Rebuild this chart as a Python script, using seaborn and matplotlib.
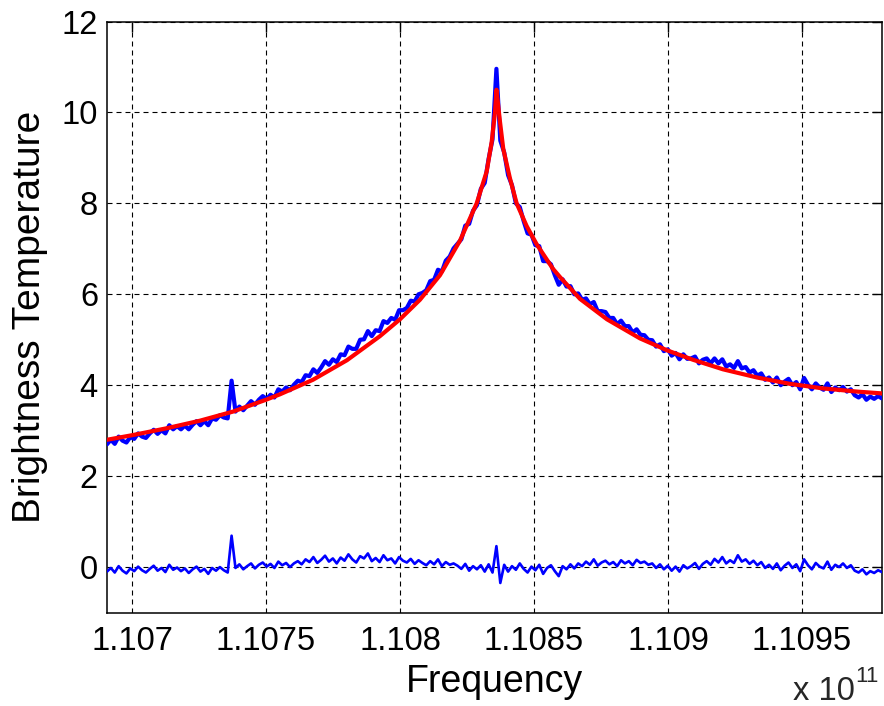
import numpy as np
import pandas as pd
import matplotlib
matplotlib.use("Agg")
import matplotlib.pyplot as plt
import seaborn as sns

# ---------------- data ----------------
f_start = 1.1069067e11
f_stop = 1.1097985e11

# measured brightness temperature (blue spectrum), evenly spaced channels
spectrum = [
    2.70, 2.80, 2.71, 2.87, 2.78, 2.74, 2.86, 2.82, 2.94, 2.87,
    2.84, 2.94, 3.02, 2.93, 3.01, 2.94, 3.12, 3.03, 3.10, 3.03,
    3.11, 3.03, 3.13, 3.21, 3.12, 3.21, 3.12, 3.27, 3.24, 3.34,
    3.29, 3.27, 4.10, 3.42, 3.53, 3.45, 3.55, 3.65, 3.57, 3.68,
    3.76, 3.70, 3.79, 3.73, 3.91, 3.86, 3.95, 3.89, 4.01, 4.10,
    4.07, 4.22, 4.20, 4.35, 4.27, 4.39, 4.53, 4.45, 4.57, 4.51,
    4.68, 4.66, 4.85, 4.80, 4.80, 5.00, 5.01, 5.19, 5.08, 5.21,
    5.19, 5.41, 5.37, 5.48, 5.44, 5.65, 5.65, 5.70, 5.86, 5.84,
    6.00, 6.03, 6.09, 6.29, 6.32, 6.54, 6.50, 6.74, 6.83, 7.01,
    7.11, 7.21, 7.51, 7.55, 7.84, 7.96, 8.32, 8.45, 8.98, 9.41,
    10.96, 9.38, 9.12, 8.62, 8.40, 8.00, 7.92, 7.61, 7.34, 7.31,
    7.08, 7.06, 6.73, 6.73, 6.66, 6.42, 6.21, 6.33, 6.17, 6.18,
    6.00, 6.02, 5.88, 5.91, 5.78, 5.83, 5.63, 5.63, 5.61, 5.48,
    5.48, 5.34, 5.42, 5.30, 5.30, 5.16, 5.23, 5.11, 5.10, 5.00,
    4.99, 4.85, 4.90, 4.75, 4.79, 4.65, 4.71, 4.57, 4.68, 4.58,
    4.59, 4.63, 4.48, 4.56, 4.59, 4.48, 4.59, 4.48, 4.57, 4.41,
    4.46, 4.38, 4.53, 4.37, 4.40, 4.28, 4.33, 4.21, 4.26, 4.12,
    4.17, 4.06, 4.17, 4.00, 4.08, 4.14, 4.00, 4.07, 3.91, 4.16,
    4.01, 3.91, 4.04, 3.95, 3.90, 4.04, 3.85, 3.95, 3.89, 3.96,
    3.86, 3.91, 3.78, 3.73, 3.80, 3.68, 3.75, 3.70, 3.76, 3.71,
]

# residual (blue trace near zero)
residual = [
    -0.10, -0.02, -0.12, 0.02, -0.08, -0.14, -0.03, -0.09, 0.01, -0.07,
    -0.12, -0.04, 0.03, -0.08, -0.02, -0.11, 0.05, -0.06, -0.01, -0.09,
    -0.03, -0.13, -0.05, 0.01, -0.10, -0.04, -0.15, -0.02, -0.08, 0.00,
    -0.07, -0.12, 0.69, -0.02, 0.06, -0.05, 0.02, 0.08, -0.03, 0.05,
    0.10, 0.01, 0.07, -0.02, 0.12, 0.04, 0.09, 0.00, 0.08, 0.13,
    0.06, 0.17, 0.11, 0.22, 0.09, 0.16, 0.25, 0.12, 0.19, 0.08,
    0.21, 0.14, 0.28, 0.17, 0.10, 0.24, 0.19, 0.30, 0.13, 0.20,
    0.11, 0.26, 0.15, 0.19, 0.08, 0.22, 0.14, 0.10, 0.18, 0.07,
    0.15, 0.09, 0.04, 0.13, 0.06, 0.17, 0.02, 0.11, 0.05, 0.08,
    0.03, -0.04, 0.07, -0.08, 0.02, -0.05, 0.04, -0.10, 0.06, -0.12,
    0.46, -0.35, 0.05, -0.10, 0.02, -0.06, 0.08, -0.04, -0.12, 0.01,
    -0.07, 0.05, -0.15, -0.02, 0.04, -0.09, -0.20, 0.02, -0.05, 0.06,
    -0.03, 0.08, 0.02, 0.12, 0.05, 0.17, 0.03, 0.10, 0.14, 0.06,
    0.11, 0.02, 0.15, 0.08, 0.13, 0.04, 0.16, 0.09, 0.12, 0.05,
    0.08, -0.02, 0.06, -0.05, 0.03, -0.08, 0.01, -0.10, 0.04, -0.03,
    0.02, 0.09, -0.04, 0.07, 0.13, 0.05, 0.18, 0.10, 0.22, 0.08,
    0.15, 0.09, 0.26, 0.12, 0.17, 0.07, 0.14, 0.04, 0.11, -0.02,
    0.05, -0.04, 0.08, -0.07, 0.03, 0.10, -0.02, 0.06, -0.09, 0.17,
    0.04, -0.05, 0.09, 0.01, -0.03, 0.12, -0.06, 0.05, 0.00, 0.08,
    -0.02, 0.04, -0.08, -0.12, -0.05, -0.16, -0.09, -0.13, -0.07, -0.11,
]

# fitted line profile (red)
fit_freq = [
    1.1069067e11, 1.1070000e11, 1.1071269e11, 1.1072537e11, 1.1073769e11,
    1.1075000e11, 1.1075522e11, 1.1076754e11, 1.1078022e11, 1.1079254e11,
    1.1080000e11, 1.1080746e11, 1.1081493e11, 1.1082239e11, 1.1082862e11,
    1.1083235e11, 1.1083422e11, 1.1083545e11, 1.1083601e11, 1.1083731e11,
    1.1083854e11, 1.1084104e11, 1.1084354e11, 1.1084728e11, 1.1085101e11,
    1.1085709e11, 1.1085970e11, 1.1086716e11, 1.1087724e11, 1.1088955e11,
    1.1090000e11, 1.1090933e11, 1.1092052e11, 1.1093321e11, 1.1094552e11,
    1.1095784e11, 1.1097052e11, 1.1097985e11,
]
fit_temp = [
    2.80, 2.90, 3.05, 3.22, 3.42,
    3.68, 3.80, 4.12, 4.55, 5.08,
    5.45, 5.88, 6.42, 7.18, 8.00,
    8.70, 9.35, 10.00, 10.50, 9.80,
    9.20, 8.55, 8.00, 7.50, 7.10,
    6.56, 6.38, 5.90, 5.45, 5.03,
    4.76, 4.56, 4.35, 4.17, 4.03,
    3.93, 3.86, 3.82,
]

xtick_vals = [1.107e11, 1.1075e11, 1.108e11, 1.1085e11, 1.109e11, 1.1095e11]
xtick_labels = ["1.107", "1.1075", "1.108", "1.1085", "1.109", "1.1095"]
ytick_vals = [0, 2, 4, 6, 8, 10, 12]

# ---------------- plotting ----------------
sns.set_style("white")
plt.rcParams["font.family"] = ["Liberation Sans", "DejaVu Sans"]

freq = np.linspace(f_start, f_stop, len(spectrum))
df = pd.DataFrame({"freq": freq, "spectrum": spectrum, "residual": residual})
df_fit = pd.DataFrame({"freq": fit_freq, "temp": fit_temp})

fig = plt.figure(figsize=(8.84, 7.06), dpi=100)
ax = fig.add_axes([0.1210, 0.1324, 0.8767, 0.8371])

sns.lineplot(data=df, x="freq", y="spectrum", ax=ax, color="#0000ff",
             linewidth=3.0, estimator=None, sort=False, zorder=3)
sns.lineplot(data=df_fit, x="freq", y="temp", ax=ax, color="#ff0000",
             linewidth=3.0, estimator=None, sort=False, zorder=4)
sns.lineplot(data=df, x="freq", y="residual", ax=ax, color="#0000ff",
             linewidth=1.9, estimator=None, sort=False, zorder=3)

ax.set_xlim(f_start, f_stop)
ax.set_ylim(-1, 12)
ax.set_xticks(xtick_vals)
ax.set_xticklabels(xtick_labels)
ax.set_yticks(ytick_vals)
ax.set_yticklabels([str(v) for v in ytick_vals])

ax.set_axisbelow(True)
ax.grid(True, color="black", linestyle=(0, (4.5, 3.6)), linewidth=0.8)

for sp in ax.spines.values():
    sp.set_visible(True)
    sp.set_color("black")
    sp.set_linewidth(1.1)

ax.tick_params(axis="both", which="major", direction="in", length=7, width=1.0,
               top=True, right=True, colors="black", labelsize=23.5)
ax.tick_params(axis="x", pad=10)
ax.tick_params(axis="y", pad=6.5)

ax.set_xlabel("Frequency", fontsize=27, labelpad=5, color="black")
ax.set_ylabel("Brightness Temperature", fontsize=28, labelpad=9.5, color="black")

fig.text(793 / 884, 0.008, "x 10", fontsize=23.5, ha="left", va="baseline")
fig.text(855 / 884, 0.034, "11", fontsize=16, ha="left", va="baseline")

fig.savefig("out.png", dpi=100)
